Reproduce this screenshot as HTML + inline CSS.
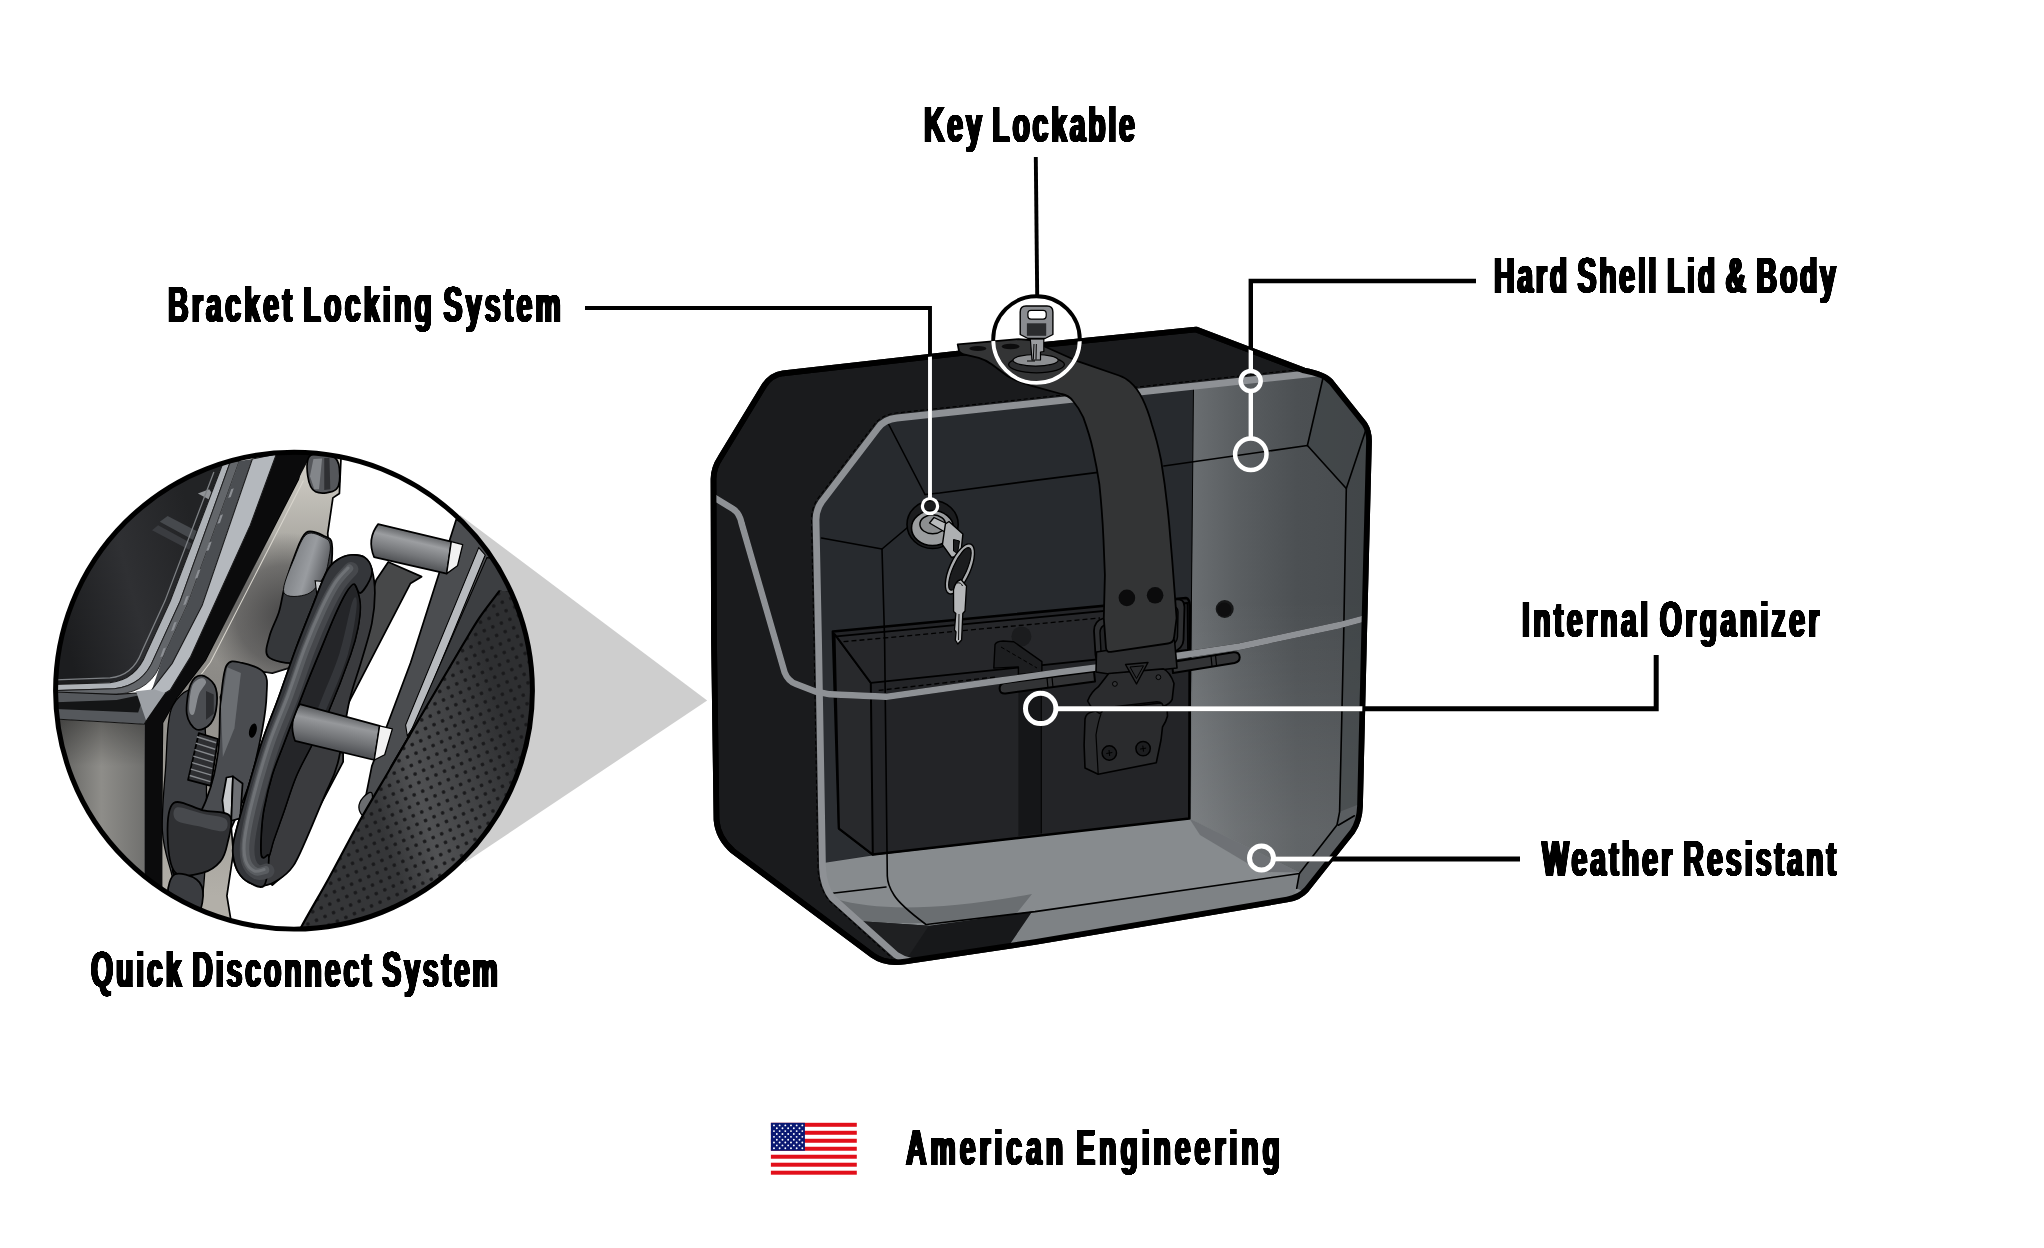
<!DOCTYPE html>
<html lang="en"><head><meta charset="utf-8"><title>Hard Shell Saddlebag Features</title>
<style>html,body{margin:0;padding:0;background:#fff}svg{display:block}</style></head>
<body>
<svg width="2044" height="1248" viewBox="0 0 2044 1248">
<defs>
<filter id="fat" x="-2%" y="-2%" width="104%" height="104%" color-interpolation-filters="sRGB"><feGaussianBlur stdDeviation="1.5 0.5"/><feComponentTransfer><feFuncA type="linear" slope="8" intercept="-1.1"/></feComponentTransfer></filter>
</defs>
<rect width="2044" height="1248" fill="#fff"/>

<!-- ===== projection triangle ===== -->
<polygon points="460,515 707.200,700.500 465,862.600" fill="#cecece"/>

<!-- ===== BOX ===== -->
<defs>
<linearGradient id="gRight" gradientUnits="userSpaceOnUse" x1="1192" y1="0" x2="1366" y2="0">
 <stop offset="0" stop-color="#6a6e71"/><stop offset="0.25" stop-color="#5b5f62"/><stop offset="0.6" stop-color="#4c5053"/><stop offset="1" stop-color="#484c4f"/>
</linearGradient>
<linearGradient id="gRightLow" gradientUnits="userSpaceOnUse" x1="1190" y1="0" x2="1345" y2="0">
 <stop offset="0" stop-color="#777b7e"/><stop offset="0.5" stop-color="#62666a"/><stop offset="1" stop-color="#52565a"/>
</linearGradient>
<linearGradient id="gRightV" gradientUnits="userSpaceOnUse" x1="0" y1="600" x2="0" y2="830"><stop offset="0" stop-color="#fff" stop-opacity="0"/><stop offset="1" stop-color="#fff" stop-opacity="0.12"/></linearGradient>
<clipPath id="cBox"><path d="M783,373.300 L958,353.500 L1196,329.500 L1304,370.500 Q1324,374 1331,382 L1364.500,424 Q1369,431 1369,441 L1364,640 L1360,806 Q1359.500,821 1352.500,831.500 L1306.500,889.500 Q1299.500,897.500 1287,899.500 L1035,942 L905,961.500 Q886,964.500 873,955.500 L733,851 Q718,838 716.500,820 L714,640 L713.500,479 Q713.500,468 720.500,457.500 L764,386 Q771,375 783,373.300 Z"/></clipPath>
<clipPath id="cFront"><path d="M1320,372.5 L897,418 Q884,419.500 878,428 L821.5,502 Q816,510 816,520 L818.500,640 L822.500,868 Q823.500,887 832.500,898 L896,955 Q905,962 915,962 L1035,943 L1288,901 Q1301,899 1308,891 L1354,832 Q1361,822 1362,807 L1365,640 L1369,440 Q1369,430 1365,423 L1330,381 Z"/></clipPath>
</defs>
<!-- silhouette -->
<path id="sil" d="M783,373.300 L958,353.500 L1196,329.500 L1304,370.500 Q1324,374 1331,382 L1364.500,424 Q1369,431 1369,441 L1364,640 L1360,806 Q1359.500,821 1352.500,831.500 L1306.500,889.500 Q1299.500,897.500 1287,899.500 L1035,942 L905,961.500 Q886,964.500 873,955.500 L733,851 Q718,838 716.500,820 L714,640 L713.500,479 Q713.500,468 720.500,457.500 L764,386 Q771,375 783,373.300 Z" fill="#1a1b1d" stroke="#000" stroke-width="5.700" stroke-linejoin="round"/>

<!-- front face contents -->
<g clip-path="url(#cFront)">
 <rect x="800" y="360" width="600" height="620" fill="#272a2e"/>
 <!-- right light region -->
 <polygon points="1193.5,360 1400,360 1400,980 1189,980" fill="url(#gRight)"/>
 <polygon points="1193.500,600 1400,600 1400,980 1189,980" fill="url(#gRightV)"/>
 <!-- outer band right darker -->
 <polygon points="1323.5,375.800 1307.400,445.500 1346.300,488.500 1343.600,640 1339.600,811.800 1337,825 1299.400,873.500 1296.700,888.300 1320,900 1400,800 1400,360" fill="#3d4144" opacity="0.55"/>
 <!-- left interior wall strip -->
 <polygon points="816,640 839,640 839,828.500 872.800,854.500 824,863 816,863" fill="#2b2e32"/>
 <!-- floor -->
 <polygon points="816,864 872.500,855.500 1189.300,818.500 1299.400,872.500 1345,850 1345,990 816,990" fill="#878b8e"/>
 <!-- right wall lower -->
 <polygon points="1189.300,818.500 1299.400,872.500 1262,872 1200,835" fill="#5d6164" opacity="0.6"/>
 <!-- bottom right chamfer -->
 <polygon points="1339.600,811.800 1337,825 1299.400,873.500 1296.700,888.300 1310,895 1370,820 1370,800" fill="#5a5e61"/>
 <!-- front lip -->
 <polygon points="926,924.500 1035,911.600 1299.400,873.500 1296.700,888.300 1290,905 1035,950 900,970" fill="#7e8285"/>
 <!-- curved reflection -->
 <path d="M836,899 Q900,918 1032,894 L1016,914 Q930,928 862,921 Z" fill="#6a6e71"/>
 <!-- dark chamfer bottom -->
 <polygon points="861.800,921.300 928.900,925.800 1032.200,911.600 1009.400,945 904.700,962 894,956" fill="#17181a"/>
 <polygon points="861.800,921.300 928.900,925.800 904.700,962 894,956" fill="#1f2022"/>
 <!-- organizer box -->
 <path d="M832.900,631.500 L1186,598 Q1189.500,598.500 1189.800,606 L1189.300,818.500 L872.800,854.500 L839,828.500 Z" fill="#232427" stroke="#000" stroke-width="2.600" stroke-linejoin="round"/>
 <polygon points="834.500,634 870.800,682.800 872.800,854.500 839,828.500" fill="#28292c" stroke="#000" stroke-width="2" stroke-linejoin="round"/>
 <polygon points="836.400,636.400 1187.500,603 1188,650 870.800,682.800" fill="#26272a" stroke="#000" stroke-width="1.800" stroke-linejoin="round"/>
 <path d="M843.500,641.700 L1100,618" stroke="#000" stroke-width="1.300" stroke-dasharray="5 3" fill="none"/>
 <path d="M878.700,690.400 L996,676.900" stroke="#000" stroke-width="1.300" stroke-dasharray="5 3" fill="none"/>
 <!-- inner bracket -->
 <circle cx="1021.400" cy="636.400" r="10" fill="#1b1c1e"/>
 <path d="M995,644.500 Q996,641.500 1003,641 L1013.700,641.700 L1041.900,661.600 L1041.900,672.200 L1018.400,674.500 L1018.400,666.900 L993.800,668.100 Z" fill="#1d1e20" stroke="#000" stroke-width="1.400" stroke-linejoin="round"/>
 <path d="M1001,647 L1037,668" stroke="#000" stroke-width="1" stroke-dasharray="4 2.500" fill="none"/>
 <!-- divider strap in organizer -->
 <polygon points="1018.400,674 1041.300,672 1041.300,833.500 1018.400,836" fill="#151618"/>
 <path d="M1041.300,672 L1041.300,833.500" stroke="#000" stroke-width="1"/>
</g>
<!-- thin panel lines on front face -->
<g fill="none" stroke="#000" stroke-width="1.600" stroke-linejoin="round" stroke-linecap="round">
 <path d="M887,421 L925,494.500"/>
 <path d="M925,494.500 L939.600,493 L1035,480.400 L1098,472.400"/>
 <path d="M1163.800,466 L1307.400,445.500 L1346.300,488.500 L1343.600,640 L1339.600,811.800 L1337,825 L1299.400,873.500 L1035,911.600 L926,924.500 Q900,905 894,895 Q887.500,885 887.300,876 L884.600,640 L882,549 L914,522"/>
 <path d="M821.500,538 L882,549"/>
 <path d="M1323.500,375.800 L1307.400,445.500"/>
 <path d="M1366.500,428 L1346.300,488.500"/>
 <path d="M1354.400,815.800 L1338.300,825.200"/>
 <path d="M1299.400,873.500 L1296.700,888.300"/>
 <path d="M1193.500,388 L1189.300,818.500" stroke-width="1"/>
 <path d="M826,894 L886,887" />
</g>
<g clip-path="url(#cBox)">
<!-- stitch lines -->
<g fill="none" stroke="#000" stroke-width="1.100" stroke-dasharray="4 2.500">
 <path d="M1312,368.200 L896,413 Q881,415 874,425 L817.500,499 Q811.500,508 811.500,520 L814,640 L818,870 Q819.500,889 829.500,901 L892,958"/>
</g>
<!-- hinge bar -->
<g stroke="#000" stroke-width="2" fill="#323335" stroke-linejoin="round">
 <path d="M1004.500,683 L1094,671.500 L1095,681.500 L1005.500,693.500 Q999.600,694 999.600,688.500 Q999.600,683.800 1004.500,683 Z"/>
 <path d="M1172,662 L1233.500,652.300 Q1239.500,652 1239.700,657.300 Q1239.700,662 1234.500,663 L1173,673 Z"/>
 <path d="M1047,678 L1048,688 M1052,677.300 L1053,687.300 M1211,656 L1212,666 M1215.500,655.300 L1216.500,665.300" fill="none" stroke-width="1.200"/>
</g>
<!-- seam gray line -->
<path d="M710.600,495.400 L732.700,508.800 Q739.500,513 741.500,523 L784.600,672.300 Q788,681 796,684 L815.400,691.500 L830,694.300 L886,696.800 L1001,680.500 L1060,672.200 L1120,664.500 L1240,646.500 L1340,625 L1366,618" fill="none" stroke="#0c0c0d" stroke-width="6.4" stroke-linejoin="round"/>
<path d="M710.600,495.400 L732.700,508.800 Q739.500,513 741.500,523 L784.600,672.300 Q788,681 796,684 L815.400,691.500 L830,694.300 L886,696.800 L1001,680.500 L1060,672.200 L1120,664.500 L1240,646.500 L1340,625 L1366,618" fill="none" stroke="#8e9195" stroke-width="6.400" stroke-linejoin="round"/>
<!-- rim gray line -->
<path d="M1321,372.500 L897,418 Q884,419.500 878,428 L821.500,502 Q816,510 816,520 L818.500,640 L822.500,868 Q823.500,887 832.500,898 L896,955 Q908,963 928,963" fill="none" stroke="#8e9195" stroke-width="6.800" stroke-linejoin="round"/>
</g>
<!-- outline restroke -->
<path d="M783,373.300 L958,353.500 L1196,329.500 L1304,370.500 Q1324,374 1331,382 L1364.500,424 Q1369,431 1369,441 L1364,640 L1360,806 Q1359.500,821 1352.500,831.500 L1306.500,889.500 Q1299.500,897.500 1287,899.500 L1035,942 L905,961.500 Q886,964.500 873,955.500 L733,851 Q718,838 716.500,820 L714,640 L713.500,479 Q713.500,468 720.500,457.500 L764,386 Q771,375 783,373.300 Z" fill="none" stroke="#000" stroke-width="5.700" stroke-linejoin="round"/>

<!-- D-ring -->
<path d="M1094,631 Q1094,621 1103,618.500 L1175,599.500 Q1184.500,598 1184.500,607 L1183.500,640 Q1183,649 1172,652.500 L1111,665 Q1097,667 1095.500,655 Z" fill="#2e2f31" stroke="#000" stroke-width="1.800"/>
<path d="M1100,633 Q1100,626 1106,624.500 L1172,607 Q1178,606 1178,612 L1177.500,637 Q1177,644 1169,646.500 L1113,658 Q1102,659.500 1101,652 Z" fill="#232426" stroke="#000" stroke-width="1.400"/>
<!-- buckle neck -->
<path d="M1096.500,652 L1174.500,640 L1177,668 L1163.400,669.500 L1109,674 L1096,672 Z" fill="#2c2d2f" stroke="#000" stroke-width="1.600" stroke-linejoin="round"/>
<!-- strap -->
<path d="M957.700,344.400 L959,351 Q961,354 966,354.800 L978.800,357.900 Q986,360 992,364.500 L1007.700,376.200 Q1018,382 1031.700,385.800 L1061.500,394 Q1069,395.500 1073,401 Q1079,408 1083.300,417.400 Q1090,436 1093,450 Q1097,468 1099.400,484.500 Q1102.500,515 1103.500,540 L1104.900,575 L1103.800,618.200 L1106,648 Q1106.500,652.500 1111,651.800 L1168,643.500 Q1173,643 1174,638 L1176.600,618.200 L1172.200,560 L1169.200,524.700 Q1166,490 1161.100,460.300 Q1157,440 1152,425 Q1148,410 1142.400,398.600 Q1137,388 1130,381.900 Q1126,378 1119,375.500 L1078.800,361.700 L1046.200,347.300 L1030,340 L1018.300,339.100 Z" fill="#333435" stroke="#000" stroke-width="1.800" stroke-linejoin="round"/>
<!-- plate holes -->
<ellipse cx="977.900" cy="348.500" rx="8.500" ry="2.600" fill="#0c0c0d"/>
<ellipse cx="1010.600" cy="346.500" rx="9" ry="2.800" fill="#0c0c0d"/>
<!-- strap holes -->
<circle cx="1126.900" cy="597.900" r="8.300" fill="#0b0b0c"/>
<circle cx="1155.100" cy="595.300" r="8.300" fill="#0b0b0c"/>
<circle cx="1224.700" cy="609" r="9" fill="#161718"/>
<circle cx="1224.200" cy="609.500" r="7" fill="#0e0e0f"/>
<!-- buckle lower (female) -->
<path d="M1085,719 Q1086,713 1092,712 L1099.900,710 L1160,703 Q1166,703 1167,709 L1167.500,716 Q1166,722 1162.500,727 L1161,740 L1156.300,762.700 L1098.200,774.200 L1085,768 L1084.100,745 Z" fill="#2a2b2d" stroke="#000" stroke-width="1.600" stroke-linejoin="round"/>
<path d="M1098.200,774.200 L1096,735 Q1098,722 1101,714" fill="none" stroke="#000" stroke-width="1.200"/>
<circle cx="1109.300" cy="753" r="7.200" fill="#1d1e20" stroke="#000" stroke-width="1.500"/>
<circle cx="1143.100" cy="748.600" r="7.200" fill="#1d1e20" stroke="#000" stroke-width="1.500"/>
<path d="M1106.300,753.500 L1112.300,752.500 M1109,750 L1109.700,756 M1140.100,749.100 L1146.100,748.100 M1142.800,745.600 L1143.500,751.600" stroke="#000" stroke-width="1" fill="none"/>
<!-- buckle upper (male) -->
<path d="M1108.700,673.500 L1163.400,668.900 Q1170,672 1174,683.400 L1172.200,699.300 Q1170,704 1163.400,706.300 L1162,703.500 Q1160,701.500 1155,702 L1108,707.500 Q1103,708.500 1101.500,712.500 L1099.900,713.400 Q1092,710 1087.600,701 Q1091,692 1098.200,686.900 Z" fill="#2b2c2e" stroke="#000" stroke-width="1.600" stroke-linejoin="round"/>
<path d="M1125.500,664.500 L1148,662.500 L1136.500,684 Z" fill="#2b2c2e" stroke="#000" stroke-width="1.400" stroke-linejoin="round"/>
<path d="M1130,667 L1143.500,665.800 L1136.500,678.500 Z" fill="none" stroke="#000" stroke-width="1"/>
<circle cx="1114.900" cy="683.900" r="2.400" fill="#333436" stroke="#000" stroke-width="1"/>
<circle cx="1158.400" cy="677.200" r="2.400" fill="#333436" stroke="#000" stroke-width="1"/>
<!-- side lock -->
<ellipse cx="932.600" cy="524.500" rx="25.600" ry="24" fill="#1b1c1e" stroke="#000" stroke-width="1.600"/>
<ellipse cx="932.500" cy="528" rx="21" ry="17.500" fill="#9b9d9f" stroke="#000" stroke-width="1.600"/>
<ellipse cx="932.700" cy="524.300" rx="12.800" ry="9.500" fill="#8c8e90" stroke="#000" stroke-width="1.500"/>
<!-- key 1 -->
<path d="M929.500,523 L934,517.500 L948.500,524.500 L944,531.500 Z" fill="#b9bbbd" stroke="#000" stroke-width="1.300" stroke-linejoin="round"/>
<path d="M945.400,524 L949,521.500 L962.900,533.900 L960.700,555.200 L951.500,557.500 L942.400,544.600 Z" fill="#aeb0b2" stroke="#000" stroke-width="1.400" stroke-linejoin="round"/>
<path d="M953.500,539.500 L959.500,541 L957.500,553.500 L953.500,551 Z" fill="#1b1c1e" stroke="#000" stroke-width="1"/>
<!-- key ring -->
<g transform="rotate(24 959.900 568.900)">
<ellipse cx="959.900" cy="568.900" rx="10.500" ry="27" fill="#a9abad" stroke="#000" stroke-width="1.400"/>
<ellipse cx="959.900" cy="568.900" rx="6.800" ry="23" fill="#1b1c1e" stroke="#000" stroke-width="1.200"/>
</g>
<!-- key 2 -->
<path d="M953.500,590 Q955,581 961,579.500 L966.500,586 L965,611 L962.800,613.500 L961.600,640 L957.800,644 L955.300,640 L956,632 L954.500,630 L955.800,613.500 L953.600,611.500 Z" fill="#b4b6b8" stroke="#000" stroke-width="1.300" stroke-linejoin="round"/>
<path d="M959,614 L958.500,640" stroke="#000" stroke-width="0.900" fill="none"/>
<path d="M957,583 Q961,582 962.500,586" stroke="#000" stroke-width="1" fill="none"/>

<!-- top key + lock ring -->
<ellipse cx="1036.500" cy="364.600" rx="27.900" ry="8.200" fill="#2c2d2f" stroke="#000" stroke-width="1.300"/>
<ellipse cx="1035.600" cy="360.300" rx="22.600" ry="5.800" fill="#8e9093" stroke="#000" stroke-width="1.200"/>
<path d="M1030.300,339 L1043.800,339 L1043.800,351.500 L1040.500,352 L1040.500,360 L1032,360 Z" fill="#9a9c9f" stroke="#000" stroke-width="1.200" stroke-linejoin="round"/>
<path d="M1034,344 L1033.300,359.500 M1036.300,344 L1036,359.500 M1027,361 L1035,361" stroke="#000" stroke-width="1" fill="none"/>
<path d="M1020.200,312 Q1020.200,306 1026,306 L1047,306 Q1052.900,306 1052.900,312 L1052.900,334.500 L1045,338.500 L1028,338.500 L1020.200,334.500 Z" fill="#8a8c90" stroke="#000" stroke-width="1.400" stroke-linejoin="round"/>
<rect x="1027.900" y="310.300" width="18.300" height="8.800" rx="3" fill="#fff" stroke="#000" stroke-width="1.200"/>
<rect x="1026.900" y="323.300" width="19.300" height="12.500" fill="#2b2c2e"/>

<!-- ===== leader lines ===== -->
<defs>
<clipPath id="cSil"><path d="M783,373.300 L958,353.500 L1196,329.500 L1304,370.500 Q1324,374 1331,382 L1364.500,424 Q1369,431 1369,441 L1364,640 L1360,806 Q1359.500,821 1352.500,831.500 L1306.500,889.500 Q1299.500,897.500 1287,899.500 L1035,942 L905,961.500 Q886,964.500 873,955.500 L733,851 Q718,838 716.500,820 L714,640 L713.500,479 Q713.500,468 720.500,457.500 L764,386 Q771,375 783,373.300 Z M957,344 L1018,339 L1030,343 L1030,356 L957,356 Z"/></clipPath>
</defs>
<g id="leadBlack" fill="none" stroke="#000" stroke-linejoin="miter">
 <path d="M1035.800,157 L1037.200,296" stroke-width="3.900"/>
 <circle cx="1036.500" cy="339.600" r="43.300" stroke-width="3.900"/>
 <path d="M585,308 L930,308 L930,500" stroke-width="3.900"/>
 <path d="M1476,281 L1250.800,281 L1250.800,372" stroke-width="4.400"/>
 <path d="M1656.200,655 L1656.200,708.800 L1059,708.800" stroke-width="5"/>
 <path d="M1520,859 L1274,859" stroke-width="5"/>
</g>
<g clip-path="url(#cSil)" fill="none" stroke="#fff">
 <circle cx="1036.500" cy="339.600" r="43.300" stroke-width="3.900"/>
 <path d="M930,308 L930,498.500" stroke-width="3.900"/>
 <path d="M1250.800,300 L1250.800,371.500 M1250.800,391 L1250.800,439" stroke-width="4.400"/>
 <path d="M1400,708.800 L1058,708.800" stroke-width="5"/>
 <path d="M1400,859 L1273,859" stroke-width="5"/>
</g>
<g fill="none" stroke="#fff">
 <circle cx="930" cy="506.100" r="7.600" stroke-width="3.200"/>
 <circle cx="1250.700" cy="381" r="10" stroke-width="4.500"/>
 <circle cx="1250.800" cy="454.300" r="15.700" stroke-width="4.500"/>
 <circle cx="1040.700" cy="708.400" r="15.200" stroke-width="5"/>
 <circle cx="1261.500" cy="858" r="12" stroke-width="5"/>
</g>

<!-- ===== magnified detail circle ===== -->
<defs>
<clipPath id="cDet"><circle cx="610.1" cy="625.6" r="551"/></clipPath>
<linearGradient id="dPanel" gradientUnits="userSpaceOnUse" x1="60" y1="420" x2="400" y2="330"><stop offset="0" stop-color="#1c1d1f"/><stop offset="0.5" stop-color="#2f3033"/><stop offset="1" stop-color="#222325"/></linearGradient>
<linearGradient id="dBody" gradientUnits="userSpaceOnUse" x1="60" y1="0" x2="270" y2="0"><stop offset="0" stop-color="#5f5f5d"/><stop offset="0.5" stop-color="#8e8d89"/><stop offset="1" stop-color="#6f6f6d"/></linearGradient>
<linearGradient id="dBodyV" gradientUnits="userSpaceOnUse" x1="0" y1="650" x2="0" y2="800"><stop offset="0" stop-color="#000" stop-opacity="0.45"/><stop offset="1" stop-color="#000" stop-opacity="0"/></linearGradient>
<linearGradient id="dPlate" gradientUnits="userSpaceOnUse" x1="0" y1="90" x2="0" y2="1100"><stop offset="0" stop-color="#d2cfc7"/><stop offset="0.2" stop-color="#a9a7a1"/><stop offset="0.5" stop-color="#8c8a86"/><stop offset="1" stop-color="#b2afa8"/></linearGradient>
<radialGradient id="dShadow" gradientUnits="userSpaceOnUse" cx="590" cy="450" r="190"><stop offset="0" stop-color="#2e2e30" stop-opacity="0.75"/><stop offset="0.6" stop-color="#3a3a3c" stop-opacity="0.5"/><stop offset="1" stop-color="#444" stop-opacity="0"/></radialGradient>
<linearGradient id="dLeather" gradientUnits="userSpaceOnUse" x1="800" y1="900" x2="1130" y2="800"><stop offset="0" stop-color="#353638"/><stop offset="0.3" stop-color="#505153"/><stop offset="0.65" stop-color="#414244"/><stop offset="1" stop-color="#2e2f31"/></linearGradient>
<pattern id="dDots" width="21.6" height="21.6" patternUnits="userSpaceOnUse" patternTransform="rotate(-24 800 800)"><circle cx="10.8" cy="10.8" r="4.4" fill="#19191b"/></pattern>
<linearGradient id="dPegU" gradientUnits="userSpaceOnUse" x1="890" y1="255" x2="870" y2="340"><stop offset="0" stop-color="#55575a"/><stop offset="0.3" stop-color="#9c9ea1"/><stop offset="0.65" stop-color="#75777a"/><stop offset="1" stop-color="#46484b"/></linearGradient>
<linearGradient id="dPegL" gradientUnits="userSpaceOnUse" x1="720" y1="675" x2="700" y2="770"><stop offset="0" stop-color="#55575a"/><stop offset="0.3" stop-color="#96989b"/><stop offset="0.65" stop-color="#707275"/><stop offset="1" stop-color="#44464a"/></linearGradient>
<linearGradient id="dBlockTop" gradientUnits="userSpaceOnUse" x1="590" y1="300" x2="690" y2="330"><stop offset="0" stop-color="#74777b"/><stop offset="0.6" stop-color="#999ca0"/><stop offset="1" stop-color="#5e6064"/></linearGradient>

</defs>
<g transform="translate(30 420) scale(0.43271)">
<g clip-path="url(#cDet)">
<circle cx="610.1" cy="625.6" r="552" fill="#fff"/>
<path d="M985.0,230.0 L1140.0,300.0 L1085.0,395.0 L1000.0,520.0 L900.0,690.0 L835.0,800.0 L800.0,880.0 L770.0,900.0 L790.0,800.0 L880.0,560.0 Z" fill="#4b4d50" stroke="#000" stroke-width="4" stroke-linejoin="round"/>
<path d="M1037.0,295.0 L1052.0,312.0 L892.0,700.0 L872.0,730.0 L868.0,705.0 Z" fill="#b7babe" stroke="#000" stroke-width="2.5"/>
<path d="M1056.0,318.0 L1150.0,330.0 L1200.0,420.0 L1085.0,395.0 L1000.0,520.0 L900.0,690.0 L850.0,780.0 L880.0,720.0 Z" fill="#3c3e41" stroke="#000" stroke-width="2.5"/>
<path d="M790.0,862.0 C787.0,856.5 775.0,866.5 770.0,872.0 C765.0,877.5 760.0,887.8 760.0,895.0 C760.0,902.2 765.3,913.3 770.0,915.0 C774.7,916.7 784.7,913.8 788.0,905.0 C791.3,896.2 793.0,867.5 790.0,862.0 Z" fill="#6b6d70" stroke="#000" stroke-width="3"/>
<path d="M1085.0,395.0 L1040.0,455.0 L1000.0,520.0 L950.0,605.0 L900.0,690.0 L830.0,810.0 L760.0,930.0 L690.0,1060.0 L625.0,1175.0 L560.0,1300.0 L1300.0,1300.0 L1300.0,395.0 Z" fill="url(#dLeather)"/>
<path d="M1085.0,395.0 L1040.0,455.0 L1000.0,520.0 L950.0,605.0 L900.0,690.0 L830.0,810.0 L760.0,930.0 L690.0,1060.0 L625.0,1175.0 L560.0,1300.0 L1300.0,1300.0 L1300.0,395.0 Z" fill="url(#dDots)"/>
<path d="M1085.0,395.0 C1077.5,405.0 1054.2,434.2 1040.0,455.0 C1025.8,475.8 1015.0,495.0 1000.0,520.0 C985.0,545.0 966.7,576.7 950.0,605.0 C933.3,633.3 920.0,655.8 900.0,690.0 C880.0,724.2 853.3,770.0 830.0,810.0 C806.7,850.0 783.3,888.3 760.0,930.0 C736.7,971.7 712.5,1019.2 690.0,1060.0 C667.5,1100.8 646.7,1135.0 625.0,1175.0 C603.3,1215.0 570.8,1279.2 560.0,1300.0" fill="none" stroke="#000" stroke-width="5"/>
<path d="M640.0,60.0 L720.0,60.0 L715.0,170.0 L700.0,180.0 L688.0,262.0 L700.0,420.0 L640.0,560.0 L560.0,585.0 L470.0,572.0 L440.0,640.0 L470.0,1000.0 L455.0,1100.0 L480.0,1250.0 L300.0,1250.0 L306.0,700.0 L340.0,640.0 L405.0,555.0 L620.0,137.0 Z" fill="url(#dPlate)" stroke="#000" stroke-width="4" stroke-linejoin="round"/>
<path d="M640.0,60.0 L720.0,60.0 L715.0,170.0 L700.0,180.0 L688.0,262.0 L700.0,420.0 L640.0,560.0 L560.0,585.0 L470.0,572.0 L440.0,640.0 L470.0,1000.0 L455.0,1100.0 L480.0,1250.0 L300.0,1250.0 L306.0,700.0 L340.0,640.0 L405.0,555.0 L620.0,137.0 Z" fill="url(#dShadow)"/>
<path d="M569.0,60.0 L660.0,60.0 L620.0,137.0 L405.0,555.0 L340.0,640.0 L306.0,700.0 L306.0,1250.0 L264.0,1250.0 L264.0,698.0 L306.0,633.0 L370.0,549.0 Z" fill="#0b0b0c"/>
<path d="M632.0,140.0 L417.0,560.0 L350.0,648.0" fill="none" stroke="#d9d6ce" stroke-width="2.5"/>
<path d="M444.3,104.1 L323.9,419.200 L268.4,539.700 Q245.2,600 185,606.900 L40,611.600 L40,40 L470,40 Z" fill="url(#dPanel)"/>
<path d="M300.0,235.0 L318.0,222.0 L395.0,262.0 L386.0,282.0 Z" fill="#46494d"/>
<path d="M282.0,255.0 L296.0,243.0 L378.0,288.0 L372.0,302.0 Z" fill="#3a3c40"/>
<path d="M388.0,170.0 L414.0,160.0 L428.0,180.0 L418.0,186.0 Z" fill="#909397"/>
<path d="M425,120 L312,418 L258,536 Q238,590 185,596 L40,601" fill="none" stroke="#7d8084" stroke-width="3"/>
<path d="M444.3,104.1 L323.9,419.200 L268.4,539.700 Q245.2,600 185,606.900 L40,611.600 L40,626 L195,621 Q262,614 287,550 L347,419 L462.800,97 Z" fill="#aeb2b7" stroke="#1a1a1b" stroke-width="2.5"/>
<path d="M462.800,97 L347,419 L287,550 Q262,614 195,621 L40,626 L40,640 L200,634 Q283,628 305.5,553 L365.500,423 L483.700,94.800 Z" fill="#63666a" stroke="#1a1a1b" stroke-width="2"/>
<path d="M483.700,94.800 L365.500,423 L305.5,553 L283,620 L300,628 L342.500,557.700 L398,428 L513.800,90.200 Z" fill="#4b4e52"/>
<path d="M465.0,160.0 L471.0,158.0 L464.0,178.0 L458.0,180.0 Z" fill="#8d9095"/>
<path d="M440.0,220.0 L446.0,218.0 L439.0,238.0 L433.0,240.0 Z" fill="#8d9095"/>
<path d="M414.0,283.0 L420.0,281.0 L413.0,301.0 L407.0,303.0 Z" fill="#8d9095"/>
<path d="M388.0,347.0 L394.0,345.0 L387.0,365.0 L381.0,367.0 Z" fill="#8d9095"/>
<path d="M361.0,408.0 L367.0,406.0 L360.0,426.0 L354.0,428.0 Z" fill="#8d9095"/>
<path d="M333.0,468.0 L339.0,466.0 L332.0,486.0 L326.0,488.0 Z" fill="#8d9095"/>
<path d="M308.0,528.0 L314.0,526.0 L307.0,546.0 L301.0,548.0 Z" fill="#8d9095"/>
<path d="M513.8,90.2 L569.4,78.6 L509.0,243.0 L370.3,548.6 L324.0,624.0 L305.5,635.6 L277.7,628.6 L328.6,562.4 L398.0,428.0 Z" fill="#b4b8bd" stroke="#1a1a1b" stroke-width="2.5"/>
<path d="M40.0,690.0 L264.0,703.0 L264.0,1250.0 L40.0,1250.0 Z" fill="url(#dBody)"/>
<path d="M40.0,690.0 L264.0,703.0 L264.0,1250.0 L40.0,1250.0 Z" fill="url(#dBodyV)"/>
<path d="M40.0,628.0 L200.0,634.0 L277.7,628.6 L305.5,635.6 L264.0,703.0 L40.0,690.0 Z" fill="#55585c" stroke="#111" stroke-width="2.5"/>
<path d="M60.0,652.0 L200.0,647.0 L264.0,634.0 L250.0,676.0 L60.0,668.0 Z" fill="#141516"/>
<path d="M245.0,627.0 L287.0,622.0 L312.0,631.0 L268.0,694.0 Z" fill="#9da1a6"/>
<path d="M330.0,660.0 C315.5,684.8 317.0,761.7 313.0,810.0 C309.0,858.3 304.0,911.7 306.0,950.0 C308.0,988.3 318.5,1016.7 325.0,1040.0 C331.5,1063.3 332.5,1081.7 345.0,1090.0 C357.5,1098.3 390.8,1161.5 400.0,1090.0 C409.2,1018.5 411.7,732.7 400.0,661.0 C388.3,589.3 344.5,635.2 330.0,660.0 Z" fill="#3d3f43" stroke="#000" stroke-width="3"/>
<path d="M648.0,82.0 C657.7,74.3 688.8,79.0 700.0,84.0 C711.2,89.0 713.7,99.3 715.0,112.0 C716.3,124.7 717.2,151.0 708.0,160.0 C698.8,169.0 671.0,171.0 660.0,166.0 C649.0,161.0 644.0,144.0 642.0,130.0 C640.0,116.0 638.3,89.7 648.0,82.0 Z" fill="#55575b" stroke="#000" stroke-width="4" stroke-linejoin="round"/>
<path d="M655.0,90.0 L675.0,89.0 L668.0,160.0 L657.0,160.0 L647.0,130.0 Z" fill="#83868a"/>
<path d="M680.0,88.0 L692.0,87.0 L694.0,160.0 L680.0,162.0 Z" fill="#2f3033"/>
<path d="M638.5,259.8 C650.6,251.8 672.7,264.9 682.6,269.3 C692.4,273.7 695.5,273.0 697.7,286.3 C699.9,299.5 697.1,334.6 695.8,348.6 C694.5,362.6 695.4,357.4 690.0,370.0 C684.6,382.6 673.8,397.8 663.7,424.1 C653.5,450.5 638.0,505.2 629.0,528.0 C620.1,550.9 623.3,557.9 610.2,561.1 C597.0,564.2 559.8,557.2 550.3,546.9 C540.9,536.7 549.3,517.0 553.5,499.7 C557.7,482.4 569.8,461.9 575.5,443.0 C581.3,424.1 582.3,407.4 588.1,386.4 C593.9,365.4 601.8,338.2 610.2,317.1 C618.6,296.0 626.4,267.8 638.5,259.8 Z" fill="#35373a" stroke="#000" stroke-width="4" stroke-linejoin="round"/>
<path d="M640.1,263.6 C651.6,256.1 672.1,268.5 681.0,272.4 C689.9,276.3 691.8,279.8 693.6,287.2 C695.3,294.7 693.7,304.8 691.4,317.1 C689.0,329.4 687.7,347.0 679.4,361.2 C671.1,375.4 657.1,395.9 641.6,402.1 C626.2,408.3 591.5,412.5 586.5,398.3 C581.6,384.2 602.8,339.6 611.7,317.1 C620.6,294.7 628.5,271.1 640.1,263.6 Z" fill="url(#dBlockTop)" stroke="#000" stroke-width="2"/>
<path d="M659.0,371.3 L688.9,374.4 L682.6,405.3 L665.2,423.5 Z" fill="#c9cbcd" stroke="#000" stroke-width="2.5"/>
<path d="M454.0,567.9 C462.4,552.0 475.6,558.5 490.1,561.3 C504.7,564.0 531.8,572.4 541.3,584.6 C550.7,596.8 547.5,613.3 546.8,634.6 C546.2,655.9 543.1,680.9 537.4,712.4 C531.6,743.8 520.2,794.7 512.4,823.5 C504.5,852.2 497.4,866.0 490.1,884.6 C482.9,903.1 477.4,917.0 469.0,934.5 C460.7,952.1 451.5,972.4 440.0,990.0 C428.5,1007.6 418.3,1031.7 400.0,1040.0 C381.7,1048.3 328.9,1066.8 330.0,1040.0 C331.1,1013.2 389.4,924.4 406.8,879.0 C424.3,833.6 429.0,804.9 434.6,767.9 C440.2,730.9 436.9,690.1 440.2,656.8 C443.4,623.5 445.7,583.8 454.0,567.9 Z" fill="#4a4c50" stroke="#000" stroke-width="4" stroke-linejoin="round"/>
<path d="M455.7,571.3 L487.4,584.6 L472.4,712.4 L445.7,779.0 L441.3,662.4 Z" fill="#6b6e72"/>
<ellipse cx="515.1" cy="717.9" rx="8.5" ry="17" transform="rotate(14 515.1 717.9)" fill="#000"/>
<path d="M370.7,612.4 C376.3,597.5 386.5,590.1 395.7,590.1 C405.0,590.1 420.2,601.2 426.3,612.4 C432.3,623.5 433.2,642.0 431.8,656.8 C430.4,671.6 425.8,691.5 417.9,701.2 C410.1,711.0 393.9,718.8 384.6,715.1 C375.3,711.4 364.7,696.1 362.4,679.0 C360.1,661.9 365.2,627.2 370.7,612.4 Z" fill="#4b4d51" stroke="#000" stroke-width="4" stroke-linejoin="round"/>
<path d="M374.6,615.1 C379.2,602.8 390.3,598.2 395.7,596.8 C401.1,595.4 407.8,600.5 406.8,606.8 C405.9,613.1 394.8,622.5 390.2,634.6 C385.5,646.6 382.8,673.0 379.1,679.0 C375.3,685.0 368.7,681.3 367.9,670.7 C367.2,660.0 370.0,627.5 374.6,615.1 Z" fill="#888b8f"/>
<path d="M406.8,626.2 L424.6,634.6 L424.6,679.0 L406.8,692.9 Z" fill="#2c2d30"/>
<path d="M390.2,723.5 L434.6,737.3 L417.9,845.7 L365.2,831.8 Z" fill="#2e2f32" stroke="#000" stroke-width="4" stroke-linejoin="round"/>
<path d="M385.7,731.8 L430.2,745.7" fill="none" stroke="#85888c" stroke-width="3.5"/>
<path d="M382.9,746.8 L427.9,760.7" fill="none" stroke="#85888c" stroke-width="3.5"/>
<path d="M380.2,761.8 L425.7,775.7" fill="none" stroke="#85888c" stroke-width="3.5"/>
<path d="M377.4,776.8 L423.5,790.7" fill="none" stroke="#85888c" stroke-width="3.5"/>
<path d="M374.6,791.8 L421.3,805.7" fill="none" stroke="#85888c" stroke-width="3.5"/>
<path d="M371.8,806.8 L419.0,820.7" fill="none" stroke="#85888c" stroke-width="3.5"/>
<path d="M369.1,821.8 L416.8,835.7" fill="none" stroke="#85888c" stroke-width="3.5"/>
<path d="M454.0,826.2 L469.0,823.5 L465.2,926.2 L450.2,929.0 L444.6,879.0 Z" fill="#c9cbcd" stroke="#000" stroke-width="4" stroke-linejoin="round"/>
<path d="M469.0,823.5 L491.3,840.1 L485.7,920.7 L465.2,926.2 Z" fill="#6d6f73" stroke="#000" stroke-width="4" stroke-linejoin="round"/>
<path d="M332.0,885.0 C345.7,875.3 378.3,897.0 400.0,902.0 C421.7,907.0 452.7,902.0 462.0,915.0 C471.3,928.0 459.7,962.5 456.0,980.0 C452.3,997.5 449.3,1009.0 440.0,1020.0 C430.7,1031.0 417.3,1041.7 400.0,1046.0 C382.7,1050.3 349.7,1060.3 336.0,1046.0 C322.3,1031.7 318.7,986.8 318.0,960.0 C317.3,933.2 318.3,894.7 332.0,885.0 Z" fill="#2f3033" stroke="#000" stroke-width="4" stroke-linejoin="round"/>
<path d="M340.0,895.0 C350.3,892.5 381.3,905.5 400.0,910.0 C418.7,914.5 444.0,915.3 452.0,922.0 C460.0,928.7 457.5,947.0 448.0,950.0 C438.5,953.0 413.3,944.2 395.0,940.0 C376.7,935.8 347.2,932.5 338.0,925.0 C328.8,917.5 329.7,897.5 340.0,895.0 Z" fill="#47494d"/>
<path d="M335.0,1050.0 C346.2,1044.5 374.2,1053.7 385.0,1062.0 C395.8,1070.3 400.8,1083.7 400.0,1100.0 C399.2,1116.3 391.7,1151.7 380.0,1160.0 C368.3,1168.3 340.3,1160.8 330.0,1150.0 C319.7,1139.2 317.2,1111.7 318.0,1095.0 C318.8,1078.3 323.8,1055.5 335.0,1050.0 Z" fill="#3a3c40" stroke="#000" stroke-width="4" stroke-linejoin="round"/>
<path d="M828.0,328.0 L905.0,362.0 L879.0,378.0 L732.0,662.0 L680.0,760.0 L600.0,700.0 L784.6,423.6 L800.0,370.0 Z" fill="#474849" stroke="#000" stroke-width="4" stroke-linejoin="round"/>
<path d="M640.0,740.0 L723.6,770.0 L723.6,790.2 L650.0,930.0 L626.3,968.0 L600.0,1040.0 L560.0,1075.0 L480.0,1000.0 Z" fill="#474849" stroke="#000" stroke-width="4" stroke-linejoin="round"/>
<path d="M711.0,323.0 C720.2,316.7 730.5,312.8 741.0,312.0 C751.5,311.2 765.8,312.5 774.0,318.0 C782.2,323.5 786.2,331.3 790.0,345.0 C793.8,358.7 797.0,379.2 797.0,400.0 C797.0,420.8 795.3,443.3 790.0,470.0 C784.7,496.7 773.7,530.0 765.0,560.0 C756.3,590.0 747.0,611.0 738.0,650.0 C729.0,689.0 720.7,757.3 711.0,794.0 C701.3,830.7 692.3,840.3 680.0,870.0 C667.7,899.7 649.0,945.2 637.0,972.0 C625.0,998.8 618.3,1016.0 608.0,1031.0 C597.7,1046.0 586.2,1054.5 575.0,1062.0 C563.8,1069.5 552.7,1075.0 541.0,1076.0 C529.3,1077.0 514.8,1073.0 505.0,1068.0 C495.2,1063.0 487.8,1055.7 482.0,1046.0 C476.2,1036.3 471.8,1022.3 470.0,1010.0 C468.2,997.7 466.7,993.8 471.0,972.0 C475.3,950.2 485.5,916.0 496.0,879.0 C506.5,842.0 520.8,789.8 534.0,750.0 C547.2,710.2 561.5,677.2 575.0,640.0 C588.5,602.8 602.3,561.2 615.0,527.0 C627.7,492.8 639.2,464.5 651.0,435.0 C662.8,405.5 676.0,368.7 686.0,350.0 C696.0,331.3 701.8,329.3 711.0,323.0 Z M749.0,379.0 C754.5,383.0 761.5,407.2 763.0,424.0 C764.5,440.8 761.7,460.3 758.0,480.0 C754.3,499.7 752.5,509.3 741.0,542.0 C729.5,574.7 703.8,641.3 689.0,676.0 C674.2,710.7 664.3,725.3 652.0,750.0 C639.7,774.7 626.2,797.3 615.0,824.0 C603.8,850.7 593.7,885.3 585.0,910.0 C576.3,934.7 568.5,955.5 563.0,972.0 C557.5,988.5 555.8,1002.3 552.0,1009.0 C548.2,1015.7 543.0,1013.2 540.0,1012.0 C537.0,1010.8 534.8,1012.3 534.0,1002.0 C533.2,991.7 533.8,967.3 535.0,950.0 C536.2,932.7 536.8,919.7 541.0,898.0 C545.2,876.3 552.5,844.7 560.0,820.0 C567.5,795.3 573.2,784.0 586.0,750.0 C598.8,716.0 623.3,651.0 637.0,616.0 C650.7,581.0 656.8,567.2 668.0,540.0 C679.2,512.8 693.7,476.3 704.0,453.0 C714.3,429.7 722.5,412.3 730.0,400.0 C737.5,387.7 743.5,375.0 749.0,379.0 Z" fill="#3a3b3e" fill-rule="evenodd" stroke="#000" stroke-width="4" stroke-linejoin="round"/>
<path d="M749.0,379.0 C754.5,383.0 761.5,407.2 763.0,424.0 C764.5,440.8 761.7,460.3 758.0,480.0 C754.3,499.7 752.5,509.3 741.0,542.0 C729.5,574.7 703.8,641.3 689.0,676.0 C674.2,710.7 664.3,725.3 652.0,750.0 C639.7,774.7 626.2,797.3 615.0,824.0 C603.8,850.7 593.7,885.3 585.0,910.0 C576.3,934.7 568.5,955.5 563.0,972.0 C557.5,988.5 555.8,1002.3 552.0,1009.0 C548.2,1015.7 543.0,1013.2 540.0,1012.0 C537.0,1010.8 534.8,1012.3 534.0,1002.0 C533.2,991.7 533.8,967.3 535.0,950.0 C536.2,932.7 536.8,919.7 541.0,898.0 C545.2,876.3 552.5,844.7 560.0,820.0 C567.5,795.3 573.2,784.0 586.0,750.0 C598.8,716.0 623.3,651.0 637.0,616.0 C650.7,581.0 656.8,567.2 668.0,540.0 C679.2,512.8 693.7,476.3 704.0,453.0 C714.3,429.7 722.5,412.3 730.0,400.0 C737.5,387.7 743.5,375.0 749.0,379.0 Z" fill="#242528" stroke="#000" stroke-width="3"/>
<path d="M745.0,420.0 C751.7,401.7 756.7,410.0 755.0,430.0 C753.3,450.0 746.5,500.8 735.0,540.0 C723.5,579.2 700.2,631.7 686.0,665.0 C671.8,698.3 657.7,728.3 650.0,740.0 C642.3,751.7 636.3,750.0 640.0,735.0 C643.7,720.0 659.5,682.5 672.0,650.0 C684.5,617.5 702.8,578.3 715.0,540.0 C727.2,501.7 738.3,438.3 745.0,420.0 Z" fill="#34363a"/>
<path d="M804.500,240.600 L973.700,281 L963,355 L795.3,317 Q778,275 804.500,240.600 Z" fill="url(#dPegU)" stroke="#000" stroke-width="4" stroke-linejoin="round"/>
<path d="M973.700,281 L1000,288 L988,337 L963,355 Z" fill="#f2f2f2" stroke="#000" stroke-width="3" stroke-linejoin="round"/>
<path d="M623.5,656.800 L808,707 L795.7,785.800 L612.400,741.400 Q596,696 623.5,656.800 Z" fill="url(#dPegL)" stroke="#000" stroke-width="4" stroke-linejoin="round"/>
<path d="M808,707 L837.5,713.700 L819.700,773.600 L795.700,785.800 Z" fill="#f2f2f2" stroke="#000" stroke-width="3" stroke-linejoin="round"/>
<path d="M741.0,312.0 C730.5,312.8 720.2,316.7 711.0,323.0 C701.8,329.3 696.0,331.3 686.0,350.0 C676.0,368.7 662.8,405.5 651.0,435.0 C639.2,464.5 627.7,492.8 615.0,527.0 C602.3,561.2 588.5,602.8 575.0,640.0 C561.5,677.2 547.2,710.2 534.0,750.0 C520.8,789.8 506.5,842.0 496.0,879.0 C485.5,916.0 475.3,950.2 471.0,972.0 C466.7,993.8 468.2,997.7 470.0,1010.0 C471.8,1022.3 476.2,1036.3 482.0,1046.0 C487.8,1055.7 495.2,1063.0 505.0,1068.0 C514.8,1073.0 533.2,1085.8 541.0,1076.0 C548.8,1066.2 552.2,1019.7 552.0,1009.0 C551.8,998.3 543.0,1013.2 540.0,1012.0 C537.0,1010.8 534.8,1012.3 534.0,1002.0 C533.2,991.7 533.8,967.3 535.0,950.0 C536.2,932.7 536.8,919.7 541.0,898.0 C545.2,876.3 552.5,844.7 560.0,820.0 C567.5,795.3 573.2,784.0 586.0,750.0 C598.8,716.0 623.3,651.0 637.0,616.0 C650.7,581.0 656.8,567.2 668.0,540.0 C679.2,512.8 693.7,476.3 704.0,453.0 C714.3,429.7 722.5,412.3 730.0,400.0 C737.5,387.7 743.5,379.0 749.0,379.0 C754.5,379.0 757.0,401.5 763.0,400.0 C769.0,398.5 780.5,379.2 785.0,370.0 C789.5,360.8 791.8,353.7 790.0,345.0 C788.2,336.3 782.2,323.5 774.0,318.0 C765.8,312.5 751.5,311.2 741.0,312.0 Z" fill="#34363a" stroke="#000" stroke-width="4" stroke-linejoin="round"/>
<path d="M742.0,345.0 C737.0,350.8 722.3,364.2 712.0,380.0 C701.7,395.8 691.7,415.0 680.0,440.0 C668.3,465.0 654.8,496.7 642.0,530.0 C629.2,563.3 616.7,603.3 603.0,640.0 C589.3,676.7 573.5,710.2 560.0,750.0 C546.5,789.8 531.5,842.0 522.0,879.0 C512.5,916.0 505.8,948.5 503.0,972.0 C500.2,995.5 501.3,1007.8 505.0,1020.0 C508.7,1032.2 517.8,1041.3 525.0,1045.0 C532.2,1048.7 544.2,1042.5 548.0,1042.0" fill="none" stroke="#46484c" stroke-width="34" stroke-linecap="round"/>
<path d="M742.0,345.0 C737.0,350.8 722.3,364.2 712.0,380.0 C701.7,395.8 691.7,415.0 680.0,440.0 C668.3,465.0 654.8,496.7 642.0,530.0 C629.2,563.3 616.7,603.3 603.0,640.0 C589.3,676.7 573.5,710.2 560.0,750.0 C546.5,789.8 531.5,842.0 522.0,879.0 C512.5,916.0 505.8,948.5 503.0,972.0 C500.2,995.5 501.3,1007.8 505.0,1020.0 C508.7,1032.2 517.8,1041.3 525.0,1045.0 C532.2,1048.7 544.2,1042.5 548.0,1042.0" fill="none" stroke="#5a5d61" stroke-width="18" stroke-linecap="round" transform="translate(-4 -2)"/>
<path d="M742.0,345.0 C737.0,350.8 722.3,364.2 712.0,380.0 C701.7,395.8 691.7,415.0 680.0,440.0 C668.3,465.0 654.8,496.7 642.0,530.0 C629.2,563.3 616.7,603.3 603.0,640.0 C589.3,676.7 573.5,710.2 560.0,750.0 C546.5,789.8 531.5,842.0 522.0,879.0 C512.5,916.0 505.8,948.5 503.0,972.0 C500.2,995.5 501.3,1007.8 505.0,1020.0 C508.7,1032.2 517.8,1041.3 525.0,1045.0 C532.2,1048.7 544.2,1042.5 548.0,1042.0" fill="none" stroke="#6f7276" stroke-width="7" stroke-linecap="round" transform="translate(-7 -3)"/>
</g>
<circle cx="610.1" cy="625.6" r="551" fill="none" stroke="#000" stroke-width="11.5"/>
</g>
<g font-family="'Liberation Sans',Arial,sans-serif" font-weight="700" font-size="50" fill="#000" filter="url(#fat)">
<text transform="translate(924.00 141.80) scale(0.57 1)" letter-spacing="4.801" word-spacing="-5">Key Lockable</text>
<text transform="translate(168.00 322.20) scale(0.57 1)" letter-spacing="5.652" word-spacing="-5">Bracket Locking System</text>
<text transform="translate(1494.00 292.50) scale(0.57 1)" letter-spacing="4.748" word-spacing="-5">Hard Shell Lid &amp; Body</text>
<text transform="translate(1522.00 636.60) scale(0.57 1)" letter-spacing="5.826" word-spacing="-5">Internal Organizer</text>
<text transform="translate(1542.00 876.00) scale(0.57 1)" letter-spacing="5.341" word-spacing="-5">Weather Resistant</text>
<text transform="translate(91.00 986.90) scale(0.57 1)" letter-spacing="4.997" word-spacing="-5">Quick Disconnect System</text>
<text transform="translate(906.00 1164.70) scale(0.57 1)" letter-spacing="6.866" word-spacing="-5">American Engineering</text>
</g>
<!-- ===== flag ===== -->
<g>
<rect x="770.9" y="1122.8" width="85.9" height="51.9" fill="#fff"/>
<rect x="770.9" y="1122.80" width="85.9" height="3.99" fill="#e20f1a"/>
<rect x="770.9" y="1130.78" width="85.9" height="3.99" fill="#e20f1a"/>
<rect x="770.9" y="1138.77" width="85.9" height="3.99" fill="#e20f1a"/>
<rect x="770.9" y="1146.75" width="85.9" height="3.99" fill="#e20f1a"/>
<rect x="770.9" y="1154.74" width="85.9" height="3.99" fill="#e20f1a"/>
<rect x="770.9" y="1162.72" width="85.9" height="3.99" fill="#e20f1a"/>
<rect x="770.9" y="1170.71" width="85.9" height="3.99" fill="#e20f1a"/>
<rect x="770.9" y="1122.8" width="34.0" height="27.95" fill="#0a1872"/>
<circle cx="773.97" cy="1125.40" r="0.95" fill="#fff"/>
<circle cx="779.64" cy="1125.40" r="0.95" fill="#fff"/>
<circle cx="785.31" cy="1125.40" r="0.95" fill="#fff"/>
<circle cx="790.98" cy="1125.40" r="0.95" fill="#fff"/>
<circle cx="796.65" cy="1125.40" r="0.95" fill="#fff"/>
<circle cx="802.32" cy="1125.40" r="0.95" fill="#fff"/>
<circle cx="776.81" cy="1128.26" r="0.95" fill="#fff"/>
<circle cx="782.48" cy="1128.26" r="0.95" fill="#fff"/>
<circle cx="788.15" cy="1128.26" r="0.95" fill="#fff"/>
<circle cx="793.82" cy="1128.26" r="0.95" fill="#fff"/>
<circle cx="799.49" cy="1128.26" r="0.95" fill="#fff"/>
<circle cx="773.97" cy="1131.12" r="0.95" fill="#fff"/>
<circle cx="779.64" cy="1131.12" r="0.95" fill="#fff"/>
<circle cx="785.31" cy="1131.12" r="0.95" fill="#fff"/>
<circle cx="790.98" cy="1131.12" r="0.95" fill="#fff"/>
<circle cx="796.65" cy="1131.12" r="0.95" fill="#fff"/>
<circle cx="802.32" cy="1131.12" r="0.95" fill="#fff"/>
<circle cx="776.81" cy="1133.98" r="0.95" fill="#fff"/>
<circle cx="782.48" cy="1133.98" r="0.95" fill="#fff"/>
<circle cx="788.15" cy="1133.98" r="0.95" fill="#fff"/>
<circle cx="793.82" cy="1133.98" r="0.95" fill="#fff"/>
<circle cx="799.49" cy="1133.98" r="0.95" fill="#fff"/>
<circle cx="773.97" cy="1136.84" r="0.95" fill="#fff"/>
<circle cx="779.64" cy="1136.84" r="0.95" fill="#fff"/>
<circle cx="785.31" cy="1136.84" r="0.95" fill="#fff"/>
<circle cx="790.98" cy="1136.84" r="0.95" fill="#fff"/>
<circle cx="796.65" cy="1136.84" r="0.95" fill="#fff"/>
<circle cx="802.32" cy="1136.84" r="0.95" fill="#fff"/>
<circle cx="776.81" cy="1139.70" r="0.95" fill="#fff"/>
<circle cx="782.48" cy="1139.70" r="0.95" fill="#fff"/>
<circle cx="788.15" cy="1139.70" r="0.95" fill="#fff"/>
<circle cx="793.82" cy="1139.70" r="0.95" fill="#fff"/>
<circle cx="799.49" cy="1139.70" r="0.95" fill="#fff"/>
<circle cx="773.97" cy="1142.56" r="0.95" fill="#fff"/>
<circle cx="779.64" cy="1142.56" r="0.95" fill="#fff"/>
<circle cx="785.31" cy="1142.56" r="0.95" fill="#fff"/>
<circle cx="790.98" cy="1142.56" r="0.95" fill="#fff"/>
<circle cx="796.65" cy="1142.56" r="0.95" fill="#fff"/>
<circle cx="802.32" cy="1142.56" r="0.95" fill="#fff"/>
<circle cx="776.81" cy="1145.42" r="0.95" fill="#fff"/>
<circle cx="782.48" cy="1145.42" r="0.95" fill="#fff"/>
<circle cx="788.15" cy="1145.42" r="0.95" fill="#fff"/>
<circle cx="793.82" cy="1145.42" r="0.95" fill="#fff"/>
<circle cx="799.49" cy="1145.42" r="0.95" fill="#fff"/>
<circle cx="773.97" cy="1148.28" r="0.95" fill="#fff"/>
<circle cx="779.64" cy="1148.28" r="0.95" fill="#fff"/>
<circle cx="785.31" cy="1148.28" r="0.95" fill="#fff"/>
<circle cx="790.98" cy="1148.28" r="0.95" fill="#fff"/>
<circle cx="796.65" cy="1148.28" r="0.95" fill="#fff"/>
<circle cx="802.32" cy="1148.28" r="0.95" fill="#fff"/>
</g>
</svg>
</body></html>
